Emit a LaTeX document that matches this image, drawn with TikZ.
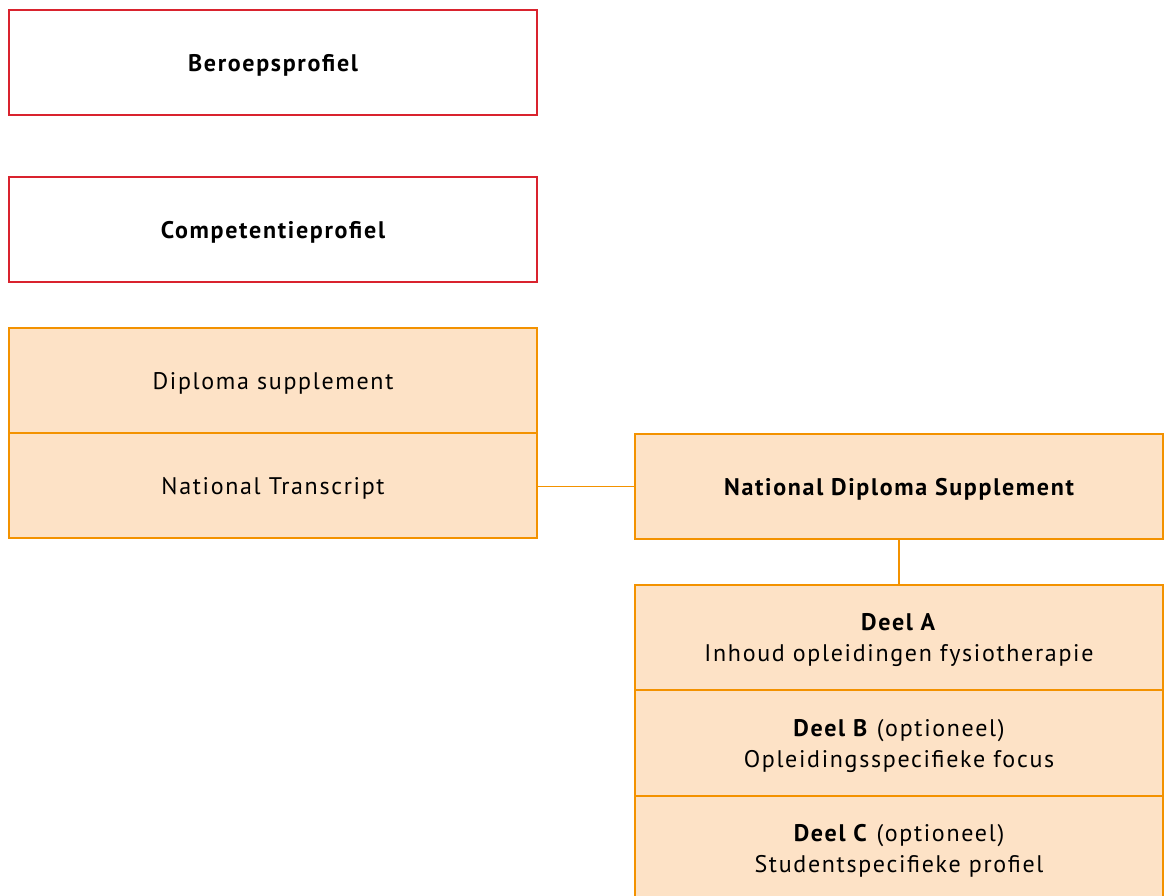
\documentclass[tikz,border=0pt]{standalone}
\usepackage{fontspec}
\setmainfont{PT Sans}[LetterSpace=7]
\definecolor{redline}{HTML}{D9232E}
\definecolor{orangeline}{HTML}{F39200}
\definecolor{orangefill}{HTML}{FDE2C6}
\begin{document}
\begin{tikzpicture}[x=1pt,y=-1pt,
  boxbase/.style={line width=1.1pt,minimum width=528pt,minimum height=105pt,inner sep=0pt,align=center,text depth=0pt},
  redbox/.style={boxbase,draw=redline,fill=white,font=\fontsize{24}{31}\selectfont\bfseries},
  orbox/.style={boxbase,draw=orangeline,fill=orangefill,font=\fontsize{24}{31}\selectfont},
  conn/.style={draw=orangeline,line width=1.1pt}]
\useasboundingbox (0,0) rectangle (1171,895);
\node[redbox] (bp) at (273,62.5) {Beroepsprofiel};
\node[redbox] (cp) at (273,229.5) {Competentieprofiel};
\node[orbox] (ds) at (273,380.5) {Diploma supplement};
\node[orbox] (nt) at (273,485.5) {National Transcript};
\node[orbox] (nds) at (899,486.5) {\bfseries National Diploma Supplement};
\node[orbox] (da) at (899,637.5) {\textbf{Deel A}\\Inhoud opleidingen fysiotherapie};
\node[orbox] (db) at (899,743) {\textbf{Deel B} (optioneel)\\Opleidingsspecifieke focus};
\node[orbox] (dc) at (899,848.5) {\textbf{Deel C} (optioneel)\\Studentspecifieke profiel};
\draw[conn] (nds.west) -- (nds.west -| nt.east);
\draw[conn] (nds.south) -- (da.north);
\end{tikzpicture}
\end{document}
